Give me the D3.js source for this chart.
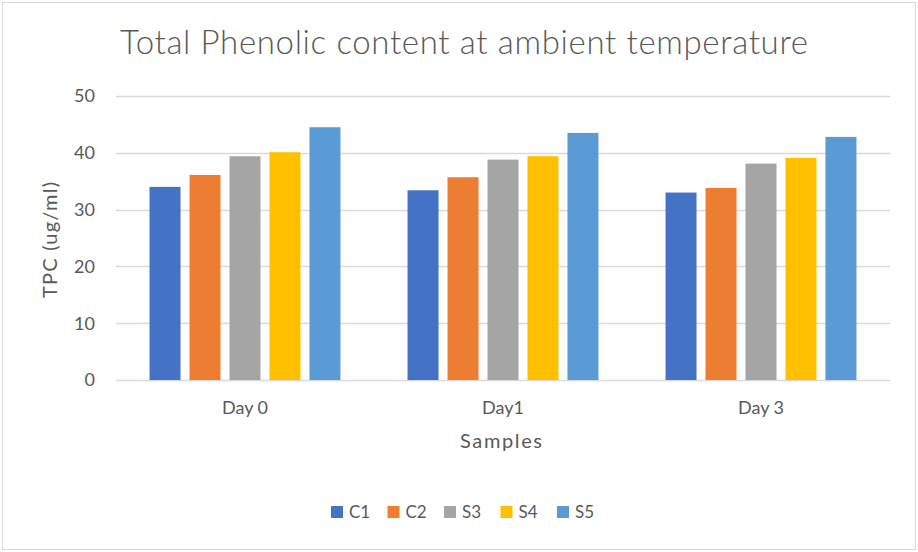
<!DOCTYPE html>
<html>
<head>
<meta charset="utf-8">
<script src="https://cdn.jsdelivr.net/npm/d3@7"></script>
<style>
    body { margin: 0; background: #fff; }
    #chart { width: 918px; height: 552px; }
    text { font-family: Lato, "Open Sans", sans-serif; fill: #595959; }
</style>
</head>
<body>
<div id="chart"></div>
<script>
// days on the x axis, samples as series
const days = ["Day 0", "Day1", "Day 3"];
const samples = ["C1", "C2", "S3", "S4", "S5"];
const c1 = [34.0, 33.4, 33.0];
const c2 = [36.1, 35.7, 33.8];
const s3 = [39.4, 38.8, 38.1];
const s4 = [40.1, 39.4, 39.1];
const s5 = [44.5, 43.5, 42.8];
const yTicks = [0, 10, 20, 30, 40, 50];
const colors = ["#4472c4", "#ed7d31", "#a5a5a5", "#ffc000", "#5b9bd5"];

const seriesValues = [c1, c2, s3, s4, s5];
const data = [];
days.forEach(function(day, i) {
    samples.forEach(function(s, j) {
        data.push({ day: day, sample: s, value: seriesValues[j][i] });
    });
});

const width = 918;
const height = 552;
const margin = {top: 96, left: 116, right: 28, bottom: 172};

const svg = d3.select("#chart")
    .append("svg")
    .attr("width", width)
    .attr("height", height);

// outer chart border
svg.append("rect")
    .attr("x", 2.5).attr("y", 2.5)
    .attr("width", width - 5).attr("height", height - 5)
    .attr("fill", "#fff")
    .attr("stroke", "#d9d9d9");

const xScale = d3.scaleBand()
    .domain(days)
    .range([margin.left, width - margin.right]);

const innerScale = d3.scaleBand()
    .domain(samples)
    .range([xScale.bandwidth() * 0.13, xScale.bandwidth() * 0.87])
    .paddingInner(0.225)
    .paddingOuter(0);

const yScale = d3.scaleLinear()
    .domain([0, 50])
    .range([height - margin.bottom, margin.top]);

const fillScale = d3.scaleOrdinal()
    .domain(samples)
    .range(colors);

// gridlines
svg.append("g")
    .selectAll("line")
    .data(yTicks)
    .enter()
    .append("line")
        .attr("x1", margin.left)
        .attr("x2", width - margin.right)
        .attr("y1", function(d) { return Math.round(yScale(d)) + 0.5; })
        .attr("y2", function(d) { return Math.round(yScale(d)) + 0.5; })
        .attr("stroke", "#d9d9d9")
        .attr("stroke-width", 1.5);

// y tick labels
svg.append("g")
    .selectAll("text")
    .data(yTicks)
    .enter()
    .append("text")
        .attr("x", 95)
        .attr("y", function(d) { return yScale(d); })
        .attr("dy", "0.35em")
        .attr("text-anchor", "end")
        .attr("font-size", 18)
        .text(function(d) { return d; });

// bars
svg.append("g")
    .selectAll("rect")
    .data(data)
    .enter()
    .append("rect")
        .attr("x", function(d) { return xScale(d.day) + innerScale(d.sample); })
        .attr("y", function(d) { return yScale(d.value); })
        .attr("width", innerScale.bandwidth())
        .attr("height", function(d) { return yScale(0) - yScale(d.value); })
        .attr("fill", function(d) { return fillScale(d.sample); });

// x tick labels
svg.append("g")
    .selectAll("text")
    .data(days)
    .enter()
    .append("text")
        .attr("x", function(d) { return xScale(d) + xScale.bandwidth() / 2; })
        .attr("y", 414)
        .attr("text-anchor", "middle")
        .attr("font-size", 18)
        .text(function(d) { return d; });

// title
svg.append("text")
    .attr("x", 464)
    .attr("y", 54)
    .attr("text-anchor", "middle")
    .attr("font-size", 33)
    .attr("font-weight", 300)
    .attr("textLength", 688)
    .attr("lengthAdjust", "spacing")
    .text("Total Phenolic content at ambient temperature");

// axis labels
svg.append("text")
    .attr("x", 501)
    .attr("y", 448)
    .attr("text-anchor", "middle")
    .attr("font-size", 20)
    .attr("textLength", 82)
    .attr("lengthAdjust", "spacing")
    .text("Samples");

svg.append("text")
    .attr("transform", "rotate(-90)")
    .attr("x", -240)
    .attr("y", 57)
    .attr("text-anchor", "middle")
    .attr("font-size", 20)
    .attr("textLength", 116)
    .attr("lengthAdjust", "spacing")
    .text("TPC (ug/ml)");

// legend
const legendX = 331;
const legendSpacing = 56.5;
samples.forEach(function(s, i) {
    svg.append("rect")
        .attr("x", legendX + i * legendSpacing)
        .attr("y", 506)
        .attr("width", 12)
        .attr("height", 12)
        .attr("fill", fillScale(s));

    svg.append("text")
        .attr("x", legendX + i * legendSpacing + 18)
        .attr("y", 518)
        .attr("font-size", 17)
        .text(s);
});
</script>
</body>
</html>
